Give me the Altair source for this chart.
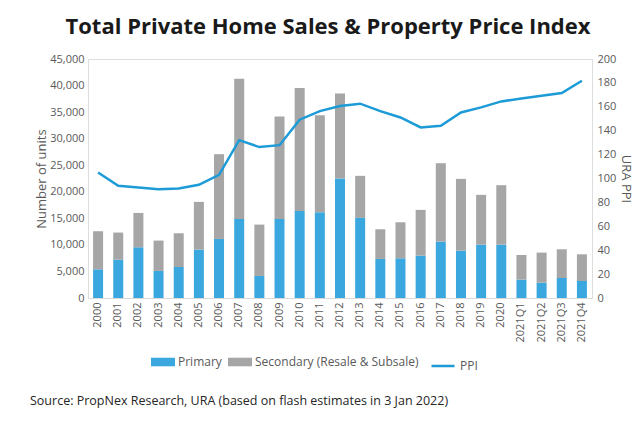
import altair as alt
import pandas as pd

periods = ["2000", "2001", "2002", "2003", "2004", "2005", "2006", "2007", "2008", "2009",
           "2010", "2011", "2012", "2013", "2014", "2015", "2016", "2017", "2018", "2019",
           "2020", "2021Q1", "2021Q2", "2021Q3", "2021Q4"]
primary = [5400, 7230, 9550, 5090, 5840, 9110, 11120, 14890, 4150, 14890,
           16400, 16150, 22500, 15080, 7350, 7480, 7980, 10620, 8920, 10050,
           10050, 3460, 2890, 3770, 3200]
total = [12570, 12320, 16020, 10810, 12190, 18100, 27080, 41280, 13820, 34180,
         39520, 34430, 38520, 23000, 12940, 14260, 16590, 25380, 22430, 19420,
         21240, 8100, 8550, 9170, 8230]
ppi = [105.0, 93.9, 92.5, 91.1, 91.6, 94.7, 103.1, 132.1, 126.3, 127.9,
       149.2, 156.4, 160.6, 162.6, 156.4, 151.1, 142.7, 144.1, 155.3, 159.5,
       164.5, 167.0, 169.3, 171.5, 181.8]
series_names = ["Primary", "Secondary (Resale & Subsale)"]
secondary = [t - p for t, p in zip(total, primary)]

rows = []
for i, p in enumerate(periods):
    rows.append({"period": p, "series": series_names[0], "units": primary[i], "ord": 0})
    rows.append({"period": p, "series": series_names[1], "units": secondary[i], "ord": 1})
bars_df = pd.DataFrame(rows)
line_df = pd.DataFrame({"period": periods, "ppi": ppi, "s": ["PPI"] * len(periods)})

FONT = "Open Sans"
GREY_TXT = "#595959"

x_enc = alt.X("period:N", sort=periods, title=None,
              scale=alt.Scale(paddingInner=0.5, paddingOuter=0.25),
              axis=alt.Axis(labelAngle=-90, labelColor=GREY_TXT, labelFontSize=11,
                            labelFont=FONT, ticks=False, domainColor="#d9d9d9",
                            labelPadding=4, labelAlign="right", labelBaseline="middle"))

bars = alt.Chart(bars_df).mark_bar(size=10).encode(
    x=x_enc,
    y=alt.Y("units:Q", stack="zero",
            scale=alt.Scale(domain=[0, 45000], nice=False),
            axis=alt.Axis(values=list(range(0, 45001, 5000)), format=",.0f", grid=False,
                          domain=False, ticks=False, labelColor=GREY_TXT, labelFontSize=11,
                          labelFont=FONT, labelPadding=4, title="Number of units",
                          titleColor=GREY_TXT, titleFontSize=13, titleFont=FONT,
                          titleFontWeight="normal", titlePadding=1)),
    color=alt.Color("series:N",
                    scale=alt.Scale(domain=series_names, range=["#3BA7DF", "#A6A6A6"]),
                    legend=alt.Legend(title=None, orient="none", direction="horizontal",
                                      legendX=66, legendY=294, padding=0,
                                      symbolType="M-1.4,-0.5L1.4,-0.5L1.4,0.5L-1.4,0.5Z",
                                      symbolSize=294, symbolStrokeWidth=0,
                                      labelFont=FONT, labelFontSize=12, labelColor=GREY_TXT,
                                      labelLimit=400, columnPadding=5, labelOffset=6)),
    order=alt.Order("ord:Q"),
)

line = alt.Chart(line_df).mark_line(strokeWidth=2.5).encode(
    x=alt.X("period:N", sort=periods),
    y=alt.Y("ppi:Q", scale=alt.Scale(domain=[0, 200], nice=False),
            axis=alt.Axis(orient="right", values=list(range(0, 201, 20)), grid=False,
                          domain=False, ticks=False, labelColor=GREY_TXT, labelFontSize=11,
                          labelFont=FONT, labelPadding=5, title="URA PPI",
                          titleColor=GREY_TXT, titleFontSize=13, titleFont=FONT,
                          titleFontWeight="normal", titlePadding=3)),
    color=alt.Color("s:N", scale=alt.Scale(domain=["PPI"], range=["#1C9BD7"]),
                    legend=alt.Legend(title=None, orient="none", direction="horizontal",
                                      legendX=342, legendY=294, padding=0,
                                      symbolType="stroke",
                                      symbolStrokeWidth=2.5, symbolSize=530,
                                      labelFont=FONT, labelFontSize=12, labelColor=GREY_TXT,
                                      labelOffset=4)),
)

source = alt.Chart(pd.DataFrame({"t": ["Source: PropNex Research, URA (based on flash estimates in 3 Jan 2022)"]})).mark_text(
    align="left", baseline="middle", font=FONT, fontSize=12.5, color="#262626"
).encode(text="t:N", x=alt.value(-58), y=alt.value(342))

chart = alt.layer(bars, line, source).resolve_scale(
    y="independent", color="independent"
).properties(
    width=504, height=239,
    autosize=alt.AutoSizeParams(type="none"),
    padding={"left": 80, "top": 51, "right": 44, "bottom": 120},
    title=alt.TitleParams("Total Private Home Sales & Property Price Index",
                          font=FONT, fontSize=22, fontWeight="bold", color="#1a1a1a",
                          anchor="middle", offset=14, dx=-12),
).configure_view(stroke=None).configure(background="white")

chart.save("out.html", embed_options={"renderer": "svg", "actions": False})
